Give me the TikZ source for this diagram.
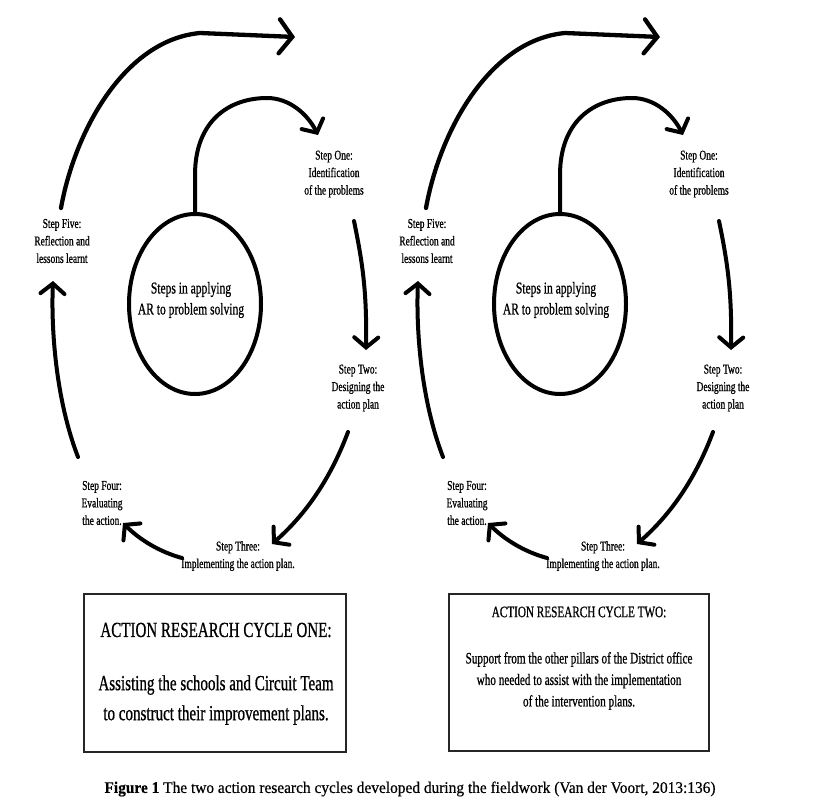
\documentclass[tikz,border=0pt]{standalone}
\usepackage{fontspec}
\setmainfont{Liberation Serif}
\newfontfamily\cndf[FakeStretch=0.7,FakeBold=0.7]{Liberation Serif}
\newfontfamily\capf[FakeStretch=0.95,FakeBold=0.5]{Liberation Serif}
\usetikzlibrary{arrows.meta,shapes.geometric}
\tikzset{
  lbl/.style={font=\cndf\fontsize{13.5}{17.5}\selectfont, align=center, inner sep=0pt},
  ctr/.style={font=\cndf\fontsize{16.5}{21}\selectfont, align=center, inner sep=0pt},
  ring/.style={draw, ellipse, line width=4pt, minimum width=132pt, minimum height=180pt, inner sep=0pt},
  arr/.style={line width=4pt, line cap=round, -{Straight Barb[length=10pt,width=24pt,line cap=round]}},
  bigarr/.style={line width=4.3pt, line cap=round, -{Straight Barb[length=13pt,width=34pt,line cap=round]}},
  boxf/.style={draw=black!85, line width=1.4pt, inner sep=0pt},
  bigtxt/.style={font=\cndf\fontsize{21.5}{30}\selectfont, align=center, inner sep=0pt},
  smalltxt/.style={font=\cndf\fontsize{16}{21.5}\selectfont, align=center, inner sep=0pt},
}
\newcommand\arcycle[1]{%
  \node[ring] (#1c) at (195,304) {};
  \node[ctr] (#1ct) at (191,300) {Steps in applying\\AR to problem solving};
  \node[lbl] (#1s1) at (334,174) {Step One:\\Identification\\of the problems};
  \node[lbl] (#1s2) at (358,388) {Step Two:\\Designing the\\action plan};
  \node[lbl] (#1s3) at (238,556) {Step Three:\\Implementing the action plan.};
  \node[lbl] (#1s4) at (102,503) {Step Four:\\Evaluating\\the action.};
  \node[lbl] (#1s5) at (62,241) {Step Five:\\Reflection and\\lessons learnt};
  \coordinate (#1e1) at (318,135);
  \coordinate (#1a2) at (354,221);
  \coordinate (#1e2) at (366,350);
  \coordinate (#1a3) at (348,432);
  \coordinate (#1e3) at (272,544);
  \coordinate (#1a4) at (182,558);
  \coordinate (#1e4) at (123,523);
  \coordinate (#1a5) at (78,457);
  \coordinate (#1e5) at (53,281);
  \coordinate (#1a6) at (61,208);
  \coordinate (#1e6) at (295,37);
  \draw[arr] (#1c.north) -- ++(0,-37) .. controls +(0,-55) and (230,98) .. (267,98) .. controls (290,98) and (308,115) .. (#1e1);
  \draw[arr] (#1a2) .. controls (362,260) and (367,290) .. (#1e2);
  \draw[arr] (#1a3) .. controls (330,480) and (305,515) .. (#1e3);
  \draw[arr] (#1a4) .. controls (160,552) and (140,540) .. (#1e4);
  \draw[arr] (#1a5) .. controls (56,400) and (51,330) .. (#1e5);
  \draw[bigarr] (#1a6) .. controls (75,130) and (125,40) .. (200,33) -- (#1e6);
}
\begin{document}
\begin{tikzpicture}[x=1pt,y=-1pt]
\useasboundingbox[fill=white] (0,0) rectangle (818,806);
\arcycle{L}
\begin{scope}[xshift=365pt]
\arcycle{R}
\end{scope}
\node[boxf, minimum width=262pt, minimum height=158pt] (b1) at (215,673) {};
\node[bigtxt] (b1t) at (216,630) {ACTION RESEARCH CYCLE ONE:};
\node[bigtxt] (b1b) at (216,700) {Assisting the schools and Circuit Team\\to construct their improvement plans.};
\node[boxf, minimum width=260pt, minimum height=157pt] (b2) at (579,672.5) {};
\node[smalltxt] (b2t) at (579,612) {ACTION RESEARCH CYCLE TWO:};
\node[smalltxt] (b2b) at (579,681) {Support from the other pillars of the District office\\who needed to assist with the implementation\\of the intervention plans.};
\node[font=\capf\fontsize{16.2}{18}\selectfont, inner sep=0pt] (cap) at (410,789) {\textbf{Figure 1} The two action research cycles developed during the fieldwork (Van der Voort, 2013:136)};
\end{tikzpicture}
\end{document}
